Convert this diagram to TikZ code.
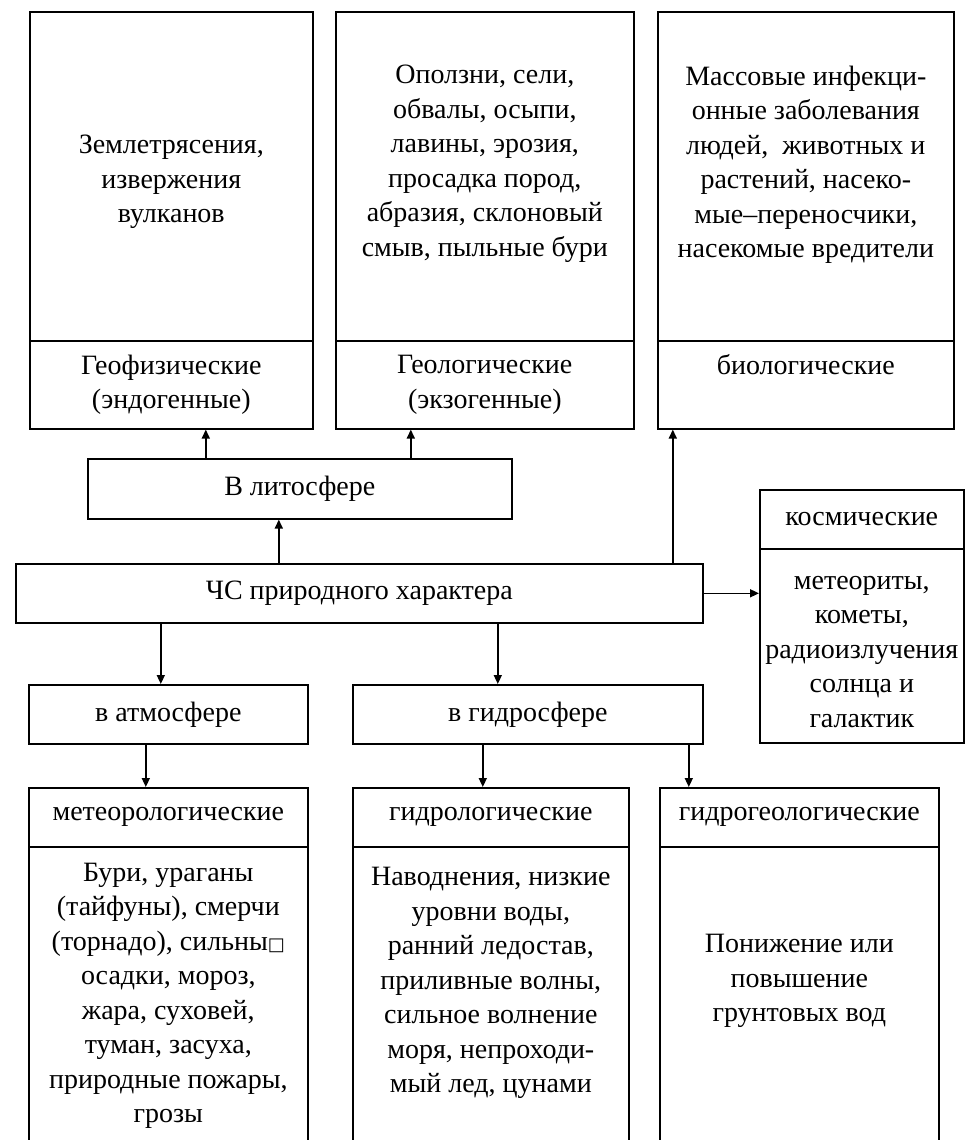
\documentclass[tikz,border=0pt]{standalone}
\usepackage{fontspec}
\setmainfont{Liberation Serif}
\newfontfamily\dejavu{DejaVu Sans}
\usetikzlibrary{arrows.meta}
\begin{document}
\begin{tikzpicture}[x=1pt,y=-1pt,
  part/.style={draw, line width=1.6pt, inner sep=0pt, anchor=north west, rectangle, align=center, font=\fontsize{28}{34.5}\selectfont},
  txt/.style={align=center, inner sep=0pt, font=\fontsize{28}{34.5}\selectfont},
  arr/.style={line width=1.6pt, -{Triangle[length=9pt,width=8pt]}}]
\clip (0,0) rectangle (965,1140);
% top boxes
\node[part, minimum width=283pt, minimum height=329pt] (geoC) at (29,11) {};
\node[part, minimum width=283pt, minimum height=88pt] (geoL) at (29,340) {Геофизические\\(эндогенные)};
\node[part, minimum width=298pt, minimum height=329pt] (geolC) at (335,11) {};
\node[part, minimum width=298pt, minimum height=88pt] (geolL) at (335,340) {Геологические\\(экзогенные)};
\node[part, minimum width=296pt, minimum height=329pt] (bioC) at (657,11) {};
\node[part, minimum width=296pt, minimum height=88pt] (bioL) at (657,340) {биологические\\\phantom{(}};
\node[txt] at ([yshift=-5.5pt]geoC.center) {Землетрясения,\\извержения\\вулканов};
\node[txt] at ([yshift=12.5pt]geolC.center) {Оползни, сели,\\обвалы, осыпи,\\лавины, эрозия,\\просадка пород,\\абразия, склоновый\\смыв, пыльные бури};
\node[txt] at ([yshift=11.5pt]bioC.center) {Массовые инфекци-\\онные заболевания\\людей,\ \ животных и\\растений, насеко-\\мые–переносчики,\\насекомые вредители};
% middle
\node[part, minimum width=424pt, minimum height=60pt] (lito) at (87,458) {В литосфере};
\node[part, minimum width=687pt, minimum height=59pt] (chs) at (15,563) {ЧС природного характера};
\node[part, minimum width=204pt, minimum height=59pt] (kosL) at (759,489) {космические};
\node[part, minimum width=204pt, minimum height=194pt] (kosC) at (759,548) {};
\node[txt] at ([yshift=-6pt]kosC.center) {метеориты,\\кометы,\\радиоизлучения\\солнца и\\галактик};
\node[part, minimum width=279pt, minimum height=59pt] (atm) at (28,684) {в атмосфере};
\node[part, minimum width=350pt, minimum height=59pt] (gsf) at (352,684) {в гидросфере};
% bottom
\node[part, minimum width=279pt, minimum height=59pt] (metL) at (28,787) {метеорологические};
\node[part, minimum width=279pt, minimum height=320pt] (metC) at (28,846) {};
\node[part, minimum width=276pt, minimum height=59pt] (hydL) at (352,787) {гидрологические};
\node[part, minimum width=276pt, minimum height=320pt] (hydC) at (352,846) {};
\node[part, minimum width=279pt, minimum height=59pt] (hgL) at (659,787) {гидрогеологические};
\node[part, minimum width=279pt, minimum height=320pt] (hgC) at (659,846) {};
\node[txt] at ([yshift=-150pt]metC.north) {Бури, ураганы\\(тайфуны), смерчи\\(торнадо), сильны{\dejavu\fontsize{18}{18}\selectfont □}\\осадки, мороз,\\жара, суховей,\\туман, засуха,\\природные пожары,\\грозы};
\node[txt] at ([yshift=-137pt]hydC.north) {Наводнения, низкие\\уровни воды,\\ранний ледостав,\\приливные волны,\\сильное волнение\\моря, непроходи-\\мый лед, цунами};
\node[txt] at ([yshift=-135pt]hgC.north) {Понижение или\\повышение\\грунтовых вод};
% arrows
\draw[arr] ([xshift=-94pt]lito.north) -- ([xshift=-94pt]lito.north |- geoL.south);
\draw[arr] ([xshift=111pt]lito.north) -- ([xshift=111pt]lito.north |- geolL.south);
\draw[arr] ([xshift=-80.5pt]chs.north) -- ([xshift=-80.5pt]chs.north |- lito.south);
\draw[arr] ([xshift=313.5pt]chs.north) -- ([xshift=313.5pt]chs.north |- bioL.south);
\draw[arr] (chs.east) -- (chs.east -| kosC.west);
\draw[arr] ([xshift=-198.5pt]chs.south) -- ([xshift=-198.5pt]chs.south |- atm.north);
\draw[arr] ([xshift=138.5pt]chs.south) -- ([xshift=138.5pt]chs.south |- gsf.north);
\draw[arr] ([xshift=-22.5pt]atm.south) -- ([xshift=-22.5pt]atm.south |- metL.north);
\draw[arr] ([xshift=-45pt]gsf.south) -- ([xshift=-45pt]gsf.south |- hydL.north);
\draw[arr] ([xshift=161pt]gsf.south) -- ([xshift=161pt]gsf.south |- hgL.north);
\end{tikzpicture}
\end{document}
